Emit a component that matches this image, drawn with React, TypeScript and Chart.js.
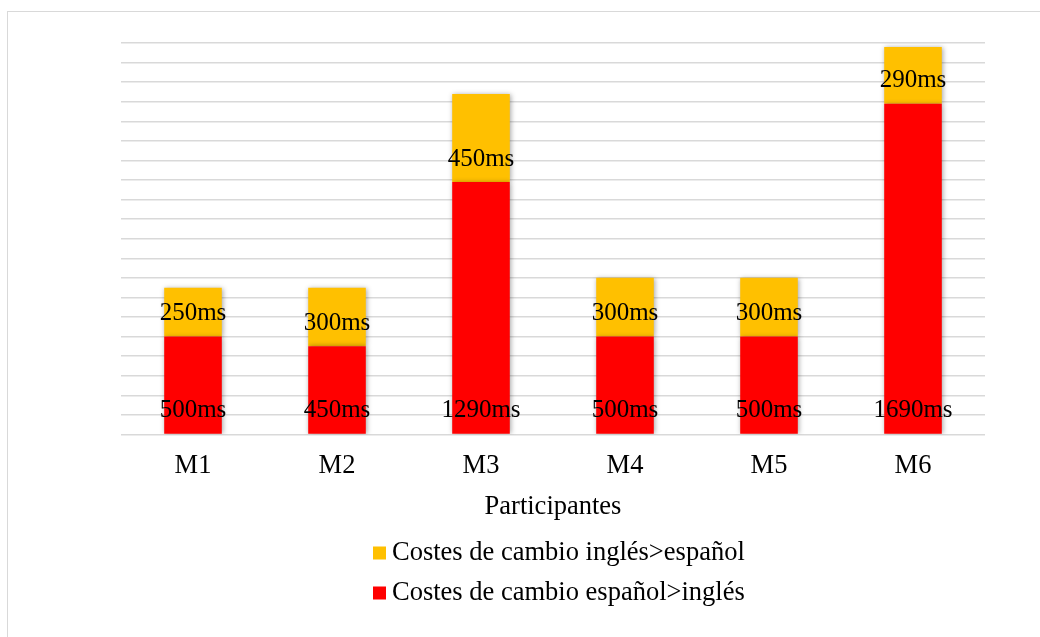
import React, { useEffect, useRef } from "react";
import { Chart, registerables } from "chart.js";

Chart.register(...registerables);

const participants = ["M1", "M2", "M3", "M4", "M5", "M6"];
const espanolIngles = [500, 450, 1290, 500, 500, 1690];
const inglesEspanol = [250, 300, 450, 300, 300, 290];
const seriesNames = ["Costes de cambio español>inglés", "Costes de cambio inglés>español"];
const seriesColors = ["#FF0000", "#FFC000"];

const FONT = '"Liberation Serif", "Times New Roman", serif';
const LABEL_SIZE = 25;
const TEXT_SIZE = 26.5;

// Soft shadow behind the bars
const barShadow = {
  id: "barShadow",
  beforeDatasetsDraw(chart: any) {
    const ctx = chart.ctx;
    ctx.save();
    ctx.shadowColor = "rgba(0,0,0,0.35)";
    ctx.shadowBlur = 5;
    ctx.shadowOffsetX = 1;
    ctx.shadowOffsetY = 0;
  },
  afterDatasetsDraw(chart: any) {
    chart.ctx.restore();
  },
};

// Value labels placed just above each segment's base
const segmentLabels = {
  id: "segmentLabels",
  afterDatasetsDraw(chart: any) {
    const ctx = chart.ctx;
    ctx.save();
    ctx.font = `${LABEL_SIZE}px ${FONT}`;
    ctx.fillStyle = "#000000";
    ctx.textAlign = "center";
    ctx.textBaseline = "middle";
    chart.data.datasets.forEach((ds: any, di: number) => {
      const meta = chart.getDatasetMeta(di);
      meta.data.forEach((el: any, i: number) => {
        ctx.fillText(`${ds.data[i]}ms`, el.x, el.base - 23);
      });
    });
    ctx.restore();
  },
};

// Vertical legend under the axis title
const stackedLegend = {
  id: "stackedLegend",
  afterDraw(chart: any) {
    const ctx = chart.ctx;
    ctx.save();
    ctx.font = `${TEXT_SIZE}px ${FONT}`;
    ctx.textBaseline = "middle";
    ctx.textAlign = "left";
    const order = [1, 0];
    order.forEach((di, row) => {
      const cy = 553 + row * 40;
      ctx.fillStyle = seriesColors[di];
      ctx.fillRect(373, cy - 6.5, 13, 13);
      ctx.fillStyle = "#000000";
      ctx.fillText(seriesNames[di], 392, cy);
    });
    ctx.restore();
  },
};

export default function App() {
  const canvasRef = useRef<HTMLCanvasElement | null>(null);

  useEffect(() => {
    if (!canvasRef.current) return;
    const chart = new Chart(canvasRef.current, {
      type: "bar",
      data: {
        labels: participants,
        datasets: [
          {
            label: seriesNames[0],
            data: espanolIngles,
            backgroundColor: seriesColors[0],
            borderWidth: 0,
          },
          {
            label: seriesNames[1],
            data: inglesEspanol,
            backgroundColor: seriesColors[1],
            borderWidth: 0,
          },
        ],
      },
      options: {
        animation: false,
        responsive: false,
        maintainAspectRatio: false,
        datasets: {
          bar: { categoryPercentage: 1, barPercentage: 0.4 },
        },
        layout: { padding: { left: 121, right: 55, top: 43, bottom: 114 } },
        plugins: {
          legend: { display: false },
          tooltip: { enabled: false },
        },
        scales: {
          x: {
            stacked: true,
            grid: { display: false, drawTicks: false },
            border: { display: false },
            ticks: {
              color: "#000000",
              padding: 16,
              font: { family: FONT, size: TEXT_SIZE },
            },
            title: {
              display: true,
              text: "Participantes",
              color: "#000000",
              padding: { top: -7, bottom: 0 },
              font: { family: FONT, size: TEXT_SIZE },
            },
          },
          y: {
            stacked: true,
            min: 0,
            max: 2000,
            ticks: { display: false, stepSize: 100 },
            grid: { color: "#d9d9d9", lineWidth: 1.5, drawTicks: false },
            border: { display: false },
          },
        },
      },
      plugins: [barShadow, segmentLabels, stackedLegend],
    });
    return () => chart.destroy();
  }, []);

  return (
    <div style={{ position: "fixed", left: 0, top: 0, width: 1040, height: 637, background: "#ffffff", overflow: "hidden" }}>
      <div
        style={{
          position: "absolute",
          left: 7,
          top: 11,
          width: 1100,
          height: 700,
          border: "1.5px solid #d9d9d9",
          boxSizing: "border-box",
        }}
      />
      <canvas
        ref={canvasRef}
        width={1040}
        height={637}
        style={{ position: "absolute", left: 0, top: 0, width: 1040, height: 637 }}
      />
    </div>
  );
}
